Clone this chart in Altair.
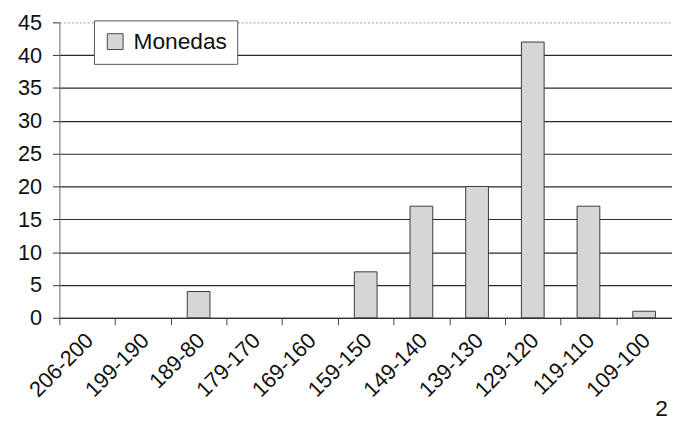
import altair as alt
import pandas as pd

categories = ["206-200", "199-190", "189-80", "179-170", "169-160", "159-150",
              "149-140", "139-130", "129-120", "119-110", "109-100"]
values = [0, 0, 4, 0, 0, 7, 17, 20, 42, 17, 1]
series_name = "Monedas"
y_ticks = [0, 5, 10, 15, 20, 25, 30, 35, 40, 45]

df = pd.DataFrame({"rango": categories, "n": values, "serie": series_name})

FONT = "Liberation Sans"

bars = alt.Chart(df).transform_filter("datum.n > 0").mark_bar(
    size=23, stroke="#3a3a3a", strokeWidth=1
).encode(
    x=alt.X("rango:N", sort=categories, title=None,
            scale=alt.Scale(domain=categories, paddingInner=0, paddingOuter=0),
            axis=alt.Axis(labelAngle=-45, labelAlign="right", labelBaseline="middle",
                          labelFontSize=22, labelFont=FONT, labelColor="#111",
                          tickBand="extent", tickSize=7, tickColor="#444",
                          domainColor="#333", labelPadding=12, labelOffset=2,
                          grid=False)),
    y=alt.Y("n:Q", title=None,
            scale=alt.Scale(domain=[0, 45], nice=False),
            axis=alt.Axis(values=y_ticks, labelFontSize=22, labelFont=FONT,
                          labelColor="#111", tickSize=7, tickColor="#333",
                          labelPadding=11, domainColor="#666",
                          gridColor={"condition": {"test": "datum.value === 45", "value": "#b0b0b0"}, "value": "#2a2a2a"},
                          gridDash={"condition": {"test": "datum.value === 45", "value": [2, 2]}, "value": []},
                          gridWidth=1.2)),
    color=alt.Color("serie:N", scale=alt.Scale(domain=[series_name], range=["#d6d6d6"]),
                    legend=alt.Legend(title=None, orient="none", legendX=35, legendY=-2,
                                      symbolType="square", symbolSize=256,
                                      symbolStrokeColor="#444", symbolStrokeWidth=1,
                                      labelFontSize=23, labelFont=FONT, labelColor="#111",
                                      labelOffset=7,
                                      strokeColor="#555", fillColor="white", padding=10)),
)

page_num = alt.Chart(pd.DataFrame({"t": ["2"]})).mark_text(
    align="left", baseline="middle", fontSize=23, font=FONT, color="#111"
).encode(text="t:N", x=alt.value(603), y=alt.value(391))

chart = alt.layer(bars, page_num).properties(
    width=620, height=299,
    autosize=alt.AutoSizeParams(type="none"),
    padding={"left": 52, "top": 12, "right": 0, "bottom": 108},
).configure_view(stroke=None).configure_axis(labelFlush=False)

chart.save("out.html", embed_options={"renderer": "svg", "actions": False})
